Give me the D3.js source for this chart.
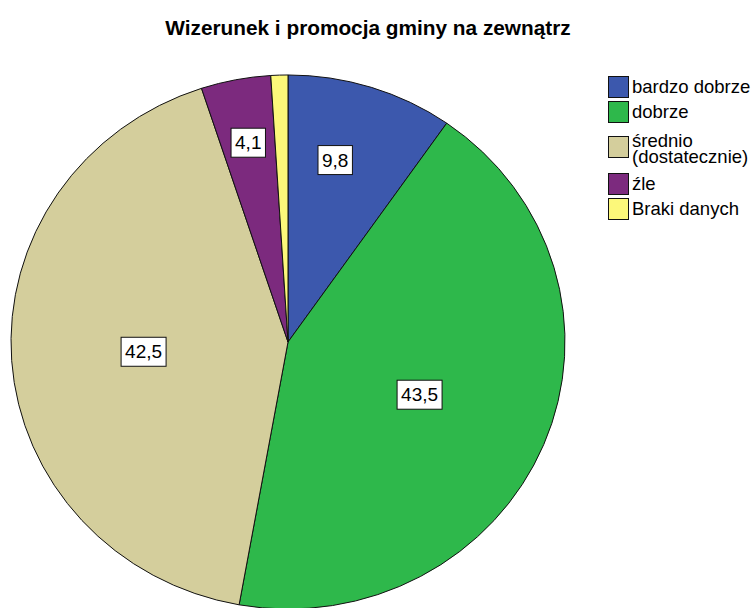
<!DOCTYPE html>
<html>
<head>
<meta charset="utf-8">
<script src="https://cdn.jsdelivr.net/npm/d3@7"></script>
<style>
  body { margin: 0; background: #fff; }
  svg { display: block; font-family: "Liberation Sans", Arial, sans-serif; }
</style>
</head>
<body>
<div id="chart"></div>
<script>
const WIDTH = 755, HEIGHT = 608;

const categories = ["bardzo dobrze", "dobrze", "średnio (dostatecznie)", "źle", "Braki danych"];
const legendLines = [["bardzo dobrze"], ["dobrze"], ["średnio", "(dostatecznie)"], ["źle"], ["Braki danych"]];
const values = [9.8, 43.5, 42.5, 4.1, 1.0];
const showLabel = [true, true, true, true, false];
const colors = ["#3c58ad", "#2eb84b", "#d4ce9c", "#7c2a7e", "#fcf87a"];

const cx = 288, cy = 342, R = 277, squash = 0.964;

const svg = d3.select("#chart").append("svg")
  .attr("width", WIDTH).attr("height", HEIGHT);

svg.append("text")
  .attr("x", 368).attr("y", 35)
  .attr("text-anchor", "middle")
  .attr("font-size", 20.8).attr("font-weight", "bold")
  .text("Wizerunek i promocja gminy na zewnątrz");

const pie = d3.pie().sort(null).value(d => d);
const arcs = pie(values);
const arc = d3.arc().innerRadius(0).outerRadius(R);

const pieG = svg.append("g")
  .attr("transform", `translate(${cx},${cy}) scale(1,${squash})`);

pieG.selectAll("path").data(arcs).enter().append("path")
  .attr("d", arc)
  .attr("fill", (d, i) => colors[i])
  .attr("stroke", "#111")
  .attr("stroke-width", 1)
  .attr("vector-effect", "non-scaling-stroke");

// labels near the sector centroid, small slices pushed outwards
const labelG = svg.append("g");
arcs.forEach((d, i) => {
  if (!showLabel[i]) return;
  const half = (d.endAngle - d.startAngle) / 2;
  const mid = d.startAngle + half - (half < 0.4 && half > 0.2 ? 0.06 : 0);
  let r = 1.07 * 2 * R * Math.sin(half) / (3 * half);
  if (half < 0.15) r = 0.76 * R;
  const x = cx + r * Math.sin(mid);
  const y = cy - r * Math.cos(mid) * squash;
  const g = labelG.append("g").attr("transform", `translate(${x},${y})`);
  const t = g.append("text")
    .attr("text-anchor", "middle")
    .attr("dy", "0.35em")
    .attr("font-size", 19)
    .text(values[i].toFixed(1).replace(".", ","));
  const bb = t.node().getBBox();
  g.insert("rect", "text")
    .attr("x", bb.x - 4).attr("y", -14.5)
    .attr("width", bb.width + 8).attr("height", 29)
    .attr("fill", "#fff").attr("stroke", "#111").attr("stroke-width", 1);
});

// legend
const legendY = [76, 101, 136, 173, 198];
const legend = svg.append("g");
categories.forEach((c, i) => {
  const y = legendY[i];
  const lines = legendLines[i];
  legend.append("rect")
    .attr("x", 608.5).attr("y", y + 0.5)
    .attr("width", 20).attr("height", 21)
    .attr("fill", colors[i]).attr("stroke", "#111");
  const t = legend.append("text")
    .attr("font-size", 18.5);
  lines.forEach((ln, j) => {
    t.append("tspan")
      .attr("x", 632)
      .attr("y", y + 17 + j * 16 - (lines.length > 1 ? 6 : 0))
      .text(ln);
  });
});
</script>
</body>
</html>
